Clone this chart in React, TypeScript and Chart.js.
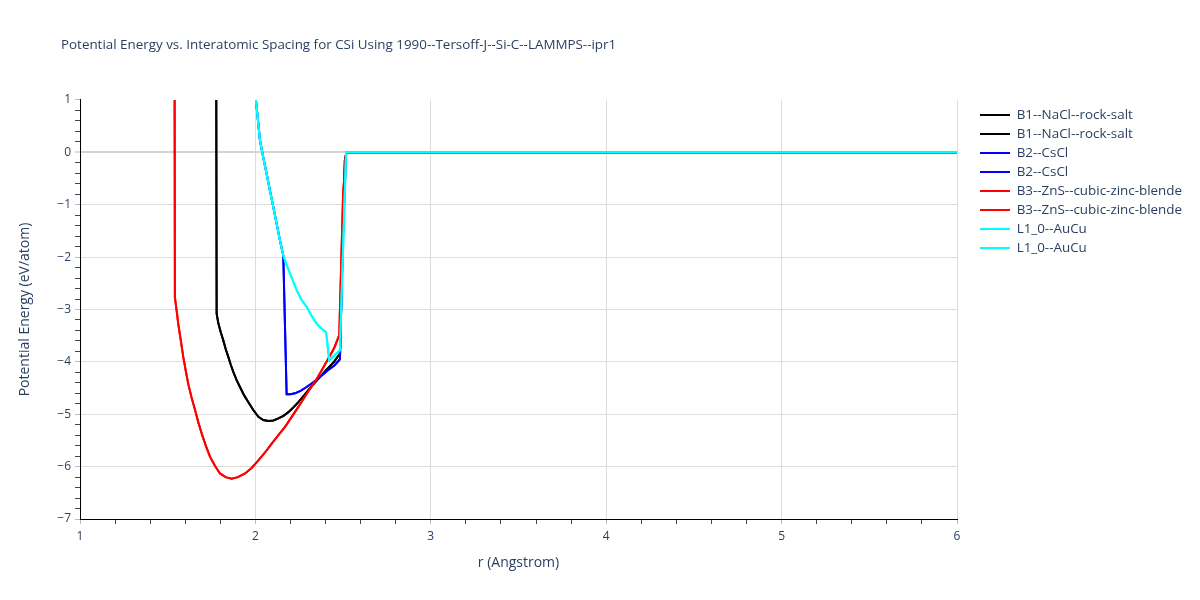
import React, { useEffect, useRef } from 'react';
import { Chart, registerables } from 'chart.js';

Chart.register(...registerables);

const TITLE = 'Potential Energy vs. Interatomic Spacing for CSi Using 1990--Tersoff-J--Si-C--LAMMPS--ipr1';
const X_TITLE = 'r (Angstrom)';
const Y_TITLE = 'Potential Energy (eV/atom)';
const X_MIN = 1;
const X_MAX = 6;
const Y_MIN = -7;
const Y_MAX = 1;

// B1--NaCl--rock-salt
const b1R = [1.765, 1.779, 1.789, 1.803, 1.817, 1.831, 1.846, 1.86, 1.874, 1.893, 1.912, 1.936, 1.96, 1.988, 2.017, 2.045, 2.074, 2.103, 2.131, 2.16, 2.188, 2.216, 2.245, 2.28, 2.311, 2.36, 2.406, 2.45, 2.482, 2.51, 2.52, 6.0];
const b1E = [25, -3.08, -3.27, -3.44, -3.59, -3.76, -3.91, -4.06, -4.19, -4.35, -4.48, -4.64, -4.77, -4.92, -5.05, -5.11, -5.13, -5.12, -5.08, -5.03, -4.96, -4.87, -4.77, -4.63, -4.5, -4.32, -4.15, -3.99, -3.84, -0.15, 0, 0];

// B2--CsCl
const b2R = [1.98, 2.003, 2.026, 2.045, 2.064, 2.083, 2.102, 2.121, 2.14, 2.159, 2.178, 2.2, 2.226, 2.26, 2.292, 2.33, 2.368, 2.41, 2.45, 2.482, 2.5, 2.517, 6.0];
const b2E = [1.8, 1.0, 0.23, -0.1, -0.41, -0.73, -1.04, -1.36, -1.68, -1.97, -4.62, -4.62, -4.6, -4.55, -4.48, -4.39, -4.29, -4.17, -4.07, -3.95, -1.5, 0, 0];

// B3--ZnS--cubic-zinc-blende
const b3R = [1.53, 1.541, 1.55, 1.56, 1.575, 1.589, 1.603, 1.617, 1.636, 1.656, 1.675, 1.694, 1.717, 1.741, 1.77, 1.798, 1.83, 1.865, 1.9, 1.941, 1.98, 2.017, 2.055, 2.093, 2.131, 2.169, 2.207, 2.245, 2.3, 2.349, 2.4, 2.45, 2.478, 2.5, 2.517, 6.0];
const b3E = [25, -2.77, -3.0, -3.27, -3.6, -3.91, -4.17, -4.42, -4.68, -4.92, -5.16, -5.37, -5.6, -5.81, -5.99, -6.13, -6.2, -6.23, -6.2, -6.13, -6.02, -5.88, -5.73, -5.56, -5.4, -5.24, -5.05, -4.86, -4.57, -4.33, -4.03, -3.73, -3.49, -0.8, 0, 0];

// L1_0--AuCu
const l10R = [1.98, 2.003, 2.026, 2.045, 2.064, 2.083, 2.102, 2.121, 2.14, 2.159, 2.178, 2.197, 2.216, 2.235, 2.26, 2.292, 2.32, 2.349, 2.375, 2.403, 2.421, 2.482, 2.517, 6.0];
const l10E = [1.8, 1.0, 0.23, -0.1, -0.41, -0.73, -1.04, -1.36, -1.68, -1.97, -2.15, -2.31, -2.47, -2.63, -2.8, -2.95, -3.12, -3.27, -3.36, -3.43, -3.97, -3.78, 0, 0];

const seriesNames = [
  'B1--NaCl--rock-salt',
  'B1--NaCl--rock-salt',
  'B2--CsCl',
  'B2--CsCl',
  'B3--ZnS--cubic-zinc-blende',
  'B3--ZnS--cubic-zinc-blende',
  'L1_0--AuCu',
  'L1_0--AuCu',
];
const seriesColors = ['#000000', '#000000', '#0000ff', '#0000ff', '#ff0000', '#ff0000', '#00ffff', '#00ffff'];
const seriesR = [b1R, b1R, b2R, b2R, b3R, b3R, l10R, l10R];
const seriesE = [b1E, b1E, b2E, b2E, b3E, b3E, l10E, l10E];
const seriesOrder = [8, 7, 6, 5, 4, 3, 2, 1];

const FONT = "'Open Sans', verdana, arial, sans-serif";
const TEXT_COLOR = '#2a3f5f';
const LEGEND_FONT = 13.4;
const LEGEND_PAD = 5.6;

const isInt = (v: number) => Math.abs(v - Math.round(v)) < 1e-6;
const fmt = (v: number) => String(Math.round(v)).replace('-', '\u2212');

export default function App() {
  const ref = useRef<HTMLCanvasElement>(null);

  useEffect(() => {
    const canvas = ref.current;
    if (!canvas) return;

    const mctx = document.createElement('canvas').getContext('2d')!;
    mctx.font = `${LEGEND_FONT}px ${FONT}`;
    const maxText = Math.max(...seriesNames.map((n) => mctx.measureText(n).width));
    const legendW = LEGEND_PAD + 30 + LEGEND_FONT / 2 + maxText + 10;
    const padRight = Math.max(0, 1200 - 957 - legendW);

    const shiftPlugin = {
      id: 'shiftBoxes',
      afterLayout(chart: any) {
        const lg = chart.legend;
        if (lg) {
          const dx = 980 - LEGEND_PAD - lg.left;
          lg.left += dx;
          lg.right += dx;
          const h = lg.bottom - lg.top;
          lg.top = chart.chartArea.top + 2.7;
          lg.bottom = lg.top + h;
        }
        const t = chart.titleBlock;
        if (t) {
          t.left += 61;
          t.right += 61;
        }
      },
    };

    const datasets = seriesNames.map((name, i) => ({
      label: name,
      data: seriesR[i].map((r, j) => ({ x: r, y: seriesE[i][j] })),
      borderColor: seriesColors[i],
      backgroundColor: seriesColors[i],
      borderWidth: 2,
      pointRadius: 0,
      pointHoverRadius: 0,
      showLine: true,
      fill: false,
      tension: 0,
      order: seriesOrder[i],
    }));

    const chart = new Chart(canvas, {
      type: 'scatter',
      data: { datasets },
      plugins: [shiftPlugin],
      options: {
        animation: false,
        responsive: false,
        devicePixelRatio: 1,
        layout: { padding: { left: 0, right: padRight, top: 0, bottom: 0 } },
        plugins: {
          title: {
            display: true,
            text: TITLE,
            align: 'start',
            color: TEXT_COLOR,
            font: { family: FONT, size: 13.4, weight: 'normal', lineHeight: 1.2 },
            padding: { top: 37, bottom: 46.9 },
          },
          legend: {
            display: true,
            position: 'right',
            align: 'start',
            labels: {
              usePointStyle: true,
              pointStyle: 'line',
              pointStyleWidth: 30,
              boxWidth: 30,
              padding: LEGEND_PAD,
              color: TEXT_COLOR,
              font: { family: FONT, size: LEGEND_FONT },
              sort: (a: any, b: any) => a.datasetIndex - b.datasetIndex,
            },
          },
          tooltip: { enabled: false },
        },
        scales: {
          x: {
            type: 'linear',
            min: X_MIN,
            max: X_MAX,
            afterFit: (s: any) => {
              s.height = 81;
            },
            ticks: {
              stepSize: 0.2,
              autoSkip: false,
              maxRotation: 0,
              padding: 5,
              color: TEXT_COLOR,
              font: { family: FONT, size: 12 },
              callback: (v: any) => (isInt(Number(v)) ? fmt(Number(v)) : ''),
            },
            grid: {
              drawTicks: true,
              tickLength: 5,
              color: (c: any) => (c.tick && isInt(c.tick.value) && c.tick.value !== X_MIN ? '#dddddd' : 'rgba(0,0,0,0)'),
              tickColor: (c: any) => (c.tick && isInt(c.tick.value) ? '#bbbbbb' : '#444444'),
              lineWidth: 1,
              tickWidth: 1,
            },
            border: { display: true, color: '#000000', width: 1 },
            title: {
              display: true,
              text: X_TITLE,
              color: TEXT_COLOR,
              font: { family: FONT, size: 14 },
              padding: { top: 0, bottom: 28.6 },
            },
          },
          y: {
            type: 'linear',
            min: Y_MIN,
            max: Y_MAX,
            afterFit: (s: any) => {
              s.width = 80;
            },
            ticks: {
              stepSize: 0.2,
              autoSkip: false,
              padding: 4,
              color: TEXT_COLOR,
              font: { family: FONT, size: 12 },
              callback: (v: any) => (isInt(Number(v)) ? fmt(Number(v)) : ''),
            },
            grid: {
              drawTicks: true,
              tickLength: 5,
              color: (c: any) => {
                if (!c.tick || !isInt(c.tick.value)) return 'rgba(0,0,0,0)';
                if (c.tick.value === Y_MAX || c.tick.value === Y_MIN) return 'rgba(0,0,0,0)';
                if (Math.abs(c.tick.value) < 1e-6) return '#d4d4d4';
                return '#dddddd';
              },
              lineWidth: (c: any) => (c.tick && Math.abs(c.tick.value) < 1e-6 ? 2 : 1),
              tickColor: (c: any) => (c.tick && isInt(c.tick.value) ? '#bbbbbb' : '#444444'),
              tickWidth: 1,
            },
            border: { display: true, color: '#000000', width: 1 },
            title: {
              display: true,
              text: Y_TITLE,
              color: TEXT_COLOR,
              font: { family: FONT, size: 14 },
              padding: { top: 16.6, bottom: 0 },
            },
          },
        },
      },
    } as any);

    return () => {
      chart.destroy();
    };
  }, []);

  return (
    <div style={{ position: 'absolute', left: 0, top: 0, width: 1200, height: 600, background: '#ffffff' }}>
      <canvas ref={ref} width={1200} height={600} style={{ display: 'block', width: 1200, height: 600 }} />
    </div>
  );
}
